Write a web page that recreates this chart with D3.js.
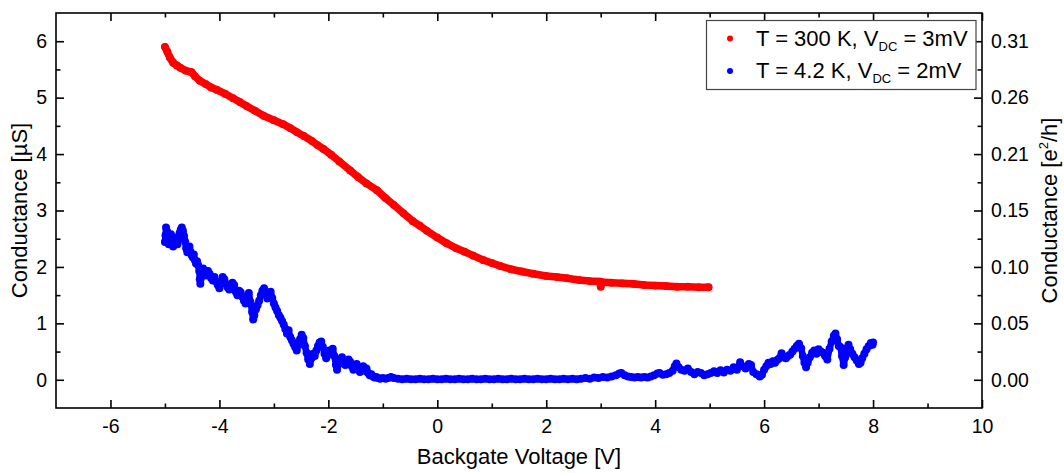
<!DOCTYPE html>
<html><head><meta charset="utf-8">
<script src="https://cdn.jsdelivr.net/npm/d3@7"></script>
<style>
body{margin:0;background:#fff}
svg{display:block}
text{font-family:"Liberation Sans",Arial,sans-serif;fill:#000}
</style>
</head><body>
<svg id="c" width="1064" height="473"></svg>
<script>
// ---- tick labels / axis data ----
const xTickValues = [-6, -4, -2, 0, 2, 4, 6, 8, 10];
const xMinorValues = [-5, -3, -1, 1, 3, 5, 7, 9];
const yTickValues = [0, 1, 2, 3, 4, 5, 6];
const yMinorValues = [0.5, 1.5, 2.5, 3.5, 4.5, 5.5];
const rightTickLabels = ["0.00", "0.05", "0.10", "0.15", "0.21", "0.26", "0.31"];
const seriesNames = ["T = 300 K, V", "T = 4.2 K, V"];
const seriesSubs = ["DC", "DC"];
const seriesTails = [" = 3mV", " = 2mV"];

// ---- T = 300 K series ----
const redV = [-5.00,-4.96,-4.91,-4.85,-4.78,-4.72,-4.62,-4.51,-4.45,-4.36,-4.25,-4.15,-4.05,-3.90,-3.75,-3.62,-3.50,-3.35,-3.19,-3.00,-2.83,-2.70,-2.58,-2.45,-2.30,-2.20,-2.09,-1.95,-1.80,-1.60,-1.45,-1.30,-1.11,-0.95,-0.80,-0.62,-0.45,-0.32,-0.19,0.00,0.17,0.35,0.50,0.66,0.85,1.00,1.15,1.35,1.55,1.76,2.00,2.20,2.38,2.60,2.80,2.99,3.00,3.02,3.20,3.40,3.60,3.80,4.00,4.21,4.40,4.60,4.80,4.98];
const redG = [5.90,5.82,5.71,5.62,5.57,5.53,5.48,5.45,5.38,5.30,5.24,5.18,5.14,5.07,4.99,4.92,4.85,4.77,4.68,4.60,4.53,4.46,4.39,4.32,4.23,4.16,4.09,3.99,3.87,3.71,3.59,3.48,3.36,3.22,3.10,2.95,2.81,2.73,2.64,2.52,2.42,2.33,2.27,2.20,2.12,2.07,2.02,1.96,1.92,1.88,1.84,1.82,1.80,1.77,1.75,1.74,1.65,1.73,1.72,1.71,1.70,1.68,1.67,1.66,1.65,1.65,1.64,1.64];

// ---- T = 4.2 K series ----
const blueV = [-5.00,-4.99,-4.98,-4.96,-4.95,-4.93,-4.91,-4.89,-4.87,-4.85,-4.83,-4.81,-4.79,-4.77,-4.75,-4.73,-4.71,-4.69,-4.67,-4.65,-4.63,-4.61,-4.59,-4.57,-4.55,-4.53,-4.51,-4.49,-4.47,-4.45,-4.43,-4.41,-4.39,-4.37,-4.36,-4.35,-4.34,-4.32,-4.30,-4.27,-4.24,-4.21,-4.18,-4.15,-4.12,-4.09,-4.06,-4.03,-4.00,-3.97,-3.94,-3.91,-3.88,-3.85,-3.82,-3.79,-3.76,-3.73,-3.70,-3.67,-3.64,-3.61,-3.58,-3.55,-3.52,-3.49,-3.46,-3.43,-3.40,-3.38,-3.36,-3.33,-3.30,-3.27,-3.24,-3.21,-3.18,-3.15,-3.12,-3.09,-3.06,-3.03,-3.00,-2.97,-2.94,-2.91,-2.88,-2.85,-2.82,-2.79,-2.76,-2.73,-2.70,-2.67,-2.64,-2.61,-2.58,-2.55,-2.52,-2.49,-2.46,-2.43,-2.40,-2.37,-2.34,-2.31,-2.28,-2.25,-2.22,-2.19,-2.16,-2.13,-2.10,-2.07,-2.04,-2.01,-1.98,-1.95,-1.92,-1.89,-1.86,-1.84,-1.81,-1.78,-1.75,-1.72,-1.69,-1.66,-1.63,-1.60,-1.57,-1.54,-1.51,-1.48,-1.45,-1.42,-1.39,-1.36,-1.33,-1.30,-1.27,-1.24,-1.21,-1.18,-1.15,-1.12,-1.09,-1.05,-1.00,-0.95,-0.90,-0.85,-0.80,
-0.72,-0.64,-0.56,-0.48,-0.40,-0.32,-0.24,-0.16,-0.08,0.00,0.08,0.16,0.24,0.32,0.40,0.48,0.56,0.64,0.72,0.80,0.88,0.96,1.04,1.12,1.20,1.28,1.36,1.44,1.52,1.60,1.68,1.76,1.84,1.92,2.00,2.08,2.16,2.24,2.32,2.40,2.48,2.56,2.64,2.72,2.80,2.88,2.96,3.04,3.12,3.20,3.28,3.34,3.38,3.44,3.50,3.56,3.62,3.68,3.74,3.80,3.86,3.92,3.98,4.04,4.08,4.14,4.20,4.26,4.32,4.36,4.39,4.43,4.48,4.54,4.60,4.66,4.72,4.78,4.84,4.90,4.96,5.02,5.08,5.14,5.20,5.26,5.32,5.38,5.44,5.50,5.56,5.60,5.66,5.72,5.76,5.80,5.86,5.92,5.96,6.00,6.04,6.08,6.12,6.16,6.20,6.24,6.28,6.32,6.36,6.40,6.44,6.48,6.52,6.56,6.60,6.64,6.68,6.71,6.74,6.77,6.80,6.84,6.88,6.92,6.96,7.00,7.04,7.08,7.12,7.16,7.20,7.24,7.28,7.31,7.34,7.37,7.40,7.43,7.46,7.49,7.52,7.55,7.58,7.62,7.66,7.70,7.74,7.77,7.80,7.84,7.88,7.92,7.96,7.99,8.00];
const blueG = [2.44,2.56,2.70,2.63,2.49,2.40,2.52,2.58,2.46,2.36,2.44,2.52,2.47,2.40,2.50,2.60,2.66,2.70,2.64,2.55,2.45,2.33,2.26,2.31,2.36,2.27,2.21,2.17,2.22,2.12,2.06,2.10,2.03,1.93,1.78,1.70,1.80,1.92,1.97,1.90,1.85,1.93,1.88,1.80,1.76,1.82,1.74,1.68,1.62,1.70,1.82,1.78,1.70,1.64,1.60,1.66,1.72,1.68,1.56,1.50,1.58,1.55,1.47,1.40,1.35,1.45,1.54,1.38,1.20,1.07,1.14,1.25,1.32,1.40,1.50,1.58,1.62,1.55,1.44,1.52,1.56,1.45,1.35,1.28,1.22,1.15,1.10,1.04,0.98,0.90,0.82,0.88,0.76,0.70,0.64,0.58,0.52,0.62,0.72,0.80,0.74,0.60,0.48,0.36,0.28,0.38,0.46,0.42,0.52,0.60,0.66,0.68,0.58,0.46,0.38,0.44,0.52,0.48,0.55,0.42,0.26,0.18,0.28,0.36,0.40,0.34,0.26,0.30,0.36,0.32,0.24,0.18,0.24,0.28,0.20,0.14,0.19,0.24,0.16,0.20,0.12,0.08,0.10,0.06,0.04,0.05,0.03,0.02,0.03,0.02,0.03,0.05,0.03,
0.02,0.01,0.02,0.01,0.01,0.02,0.01,0.01,0.02,0.01,0.01,0.02,0.01,0.01,0.02,0.01,0.01,0.02,0.01,0.01,0.02,0.01,0.01,0.02,0.01,0.01,0.02,0.01,0.01,0.02,0.01,0.01,0.02,0.01,0.01,0.02,0.01,0.01,0.02,0.01,0.02,0.01,0.02,0.03,0.02,0.04,0.03,0.05,0.04,0.06,0.08,0.11,0.12,0.08,0.06,0.05,0.04,0.05,0.04,0.05,0.04,0.06,0.08,0.11,0.12,0.09,0.10,0.12,0.16,0.24,0.29,0.22,0.18,0.16,0.20,0.14,0.10,0.14,0.12,0.08,0.10,0.12,0.15,0.12,0.17,0.13,0.18,0.16,0.22,0.18,0.31,0.24,0.20,0.28,0.26,0.14,0.10,0.06,0.09,0.18,0.24,0.30,0.28,0.33,0.30,0.35,0.38,0.47,0.40,0.38,0.42,0.45,0.50,0.55,0.60,0.64,0.56,0.42,0.30,0.22,0.30,0.40,0.48,0.52,0.46,0.54,0.50,0.48,0.42,0.36,0.55,0.68,0.78,0.82,0.72,0.60,0.58,0.42,0.26,0.40,0.56,0.62,0.54,0.46,0.40,0.34,0.28,0.30,0.38,0.46,0.54,0.60,0.65,0.62,0.66];

const svg = d3.select("#c");
const padL = 56, padR = 982, padT = 13, padB = 408;
const x = d3.scaleLinear().domain([-7, 10]).range([padL, padR]);
const y = d3.scaleLinear().domain([-0.5, 6.5]).range([padB, padT]);
const tickFont = "19.5px";
const axisW = 1.6;
const plain = d => String(d);

function styleAxis(g) {
  g.select(".domain").remove();
  g.selectAll("line").attr("stroke", "#000").attr("stroke-width", axisW);
  g.selectAll("text").style("font-size", tickFont).attr("fill", "#000");
}

// bottom axis
svg.append("g").attr("transform", `translate(0,${padB})`)
  .call(d3.axisBottom(x).tickValues(xTickValues).tickSize(-8).tickPadding(10).tickFormat(plain))
  .call(styleAxis)
  .call(g => g.selectAll("text").attr("y", 24.5).attr("dy", 0));
svg.append("g").attr("transform", `translate(0,${padB})`)
  .call(d3.axisBottom(x).tickValues(xMinorValues).tickSize(-4.5).tickFormat(""))
  .call(styleAxis);
// top axis
svg.append("g").attr("transform", `translate(0,${padT})`)
  .call(d3.axisTop(x).tickValues(xTickValues).tickSize(-8).tickFormat(""))
  .call(styleAxis);
svg.append("g").attr("transform", `translate(0,${padT})`)
  .call(d3.axisTop(x).tickValues(xMinorValues).tickSize(-4.5).tickFormat(""))
  .call(styleAxis);
// left axis
svg.append("g").attr("transform", `translate(${padL},0)`)
  .call(d3.axisLeft(y).tickValues(yTickValues).tickSize(-8).tickPadding(9).tickFormat(plain))
  .call(styleAxis);
svg.append("g").attr("transform", `translate(${padL},0)`)
  .call(d3.axisLeft(y).tickValues(yMinorValues).tickSize(-4.5).tickFormat(""))
  .call(styleAxis);
// right axis
svg.append("g").attr("transform", `translate(${padR},0)`)
  .call(d3.axisRight(y).tickValues(yTickValues).tickSize(-8).tickPadding(9).tickFormat((d, i) => rightTickLabels[i]))
  .call(styleAxis);
svg.append("g").attr("transform", `translate(${padR},0)`)
  .call(d3.axisRight(y).tickValues(yMinorValues).tickSize(-4.5).tickFormat(""))
  .call(styleAxis);

// frame
svg.append("rect").attr("x", padL).attr("y", padT).attr("width", padR - padL).attr("height", padB - padT)
  .attr("fill", "none").attr("stroke", "#000").attr("stroke-width", axisW);

// data
const red = "#ff0000", blue = "#0000ff";
const redData = redV.map((v, i) => [v, redG[i]]);
const blueData = blueV.map((v, i) => [v, blueG[i]]);
const line = d3.line().x(d => x(d[0])).y(d => y(d[1]));
svg.append("path").datum(redData).attr("d", line).attr("fill", "none")
  .attr("stroke", red).attr("stroke-width", 7.6).attr("stroke-linecap", "round").attr("stroke-linejoin", "round");
svg.append("g").selectAll("circle").data(redData).join("circle")
  .attr("cx", d => x(d[0])).attr("cy", d => y(d[1])).attr("r", 3.9).attr("fill", red);
svg.append("path").datum(blueData).attr("d", line).attr("fill", "none")
  .attr("stroke", blue).attr("stroke-width", 6.5).attr("stroke-linecap", "round").attr("stroke-linejoin", "round");
svg.append("g").selectAll("circle").data(blueData).join("circle")
  .attr("cx", d => x(d[0])).attr("cy", d => y(d[1])).attr("r", 4).attr("fill", blue);

// axis titles
svg.append("text").attr("x", (padL + padR) / 2).attr("y", 464).attr("text-anchor", "middle")
  .style("font-size", "22px").text("Backgate Voltage [V]");
svg.append("text").attr("transform", `translate(27,${(padT + padB) / 2}) rotate(-90)`).attr("text-anchor", "middle")
  .style("font-size", "22px").text("Conductance [µS]");
const rt = svg.append("text").attr("transform", `translate(1057,${(padT + padB) / 2}) rotate(-90)`).attr("text-anchor", "middle")
  .style("font-size", "22px");
rt.append("tspan").text("Conductance [e");
rt.append("tspan").attr("dy", -9).style("font-size", "13px").text("2");
rt.append("tspan").attr("dy", 9).text("/h]");

// legend
const lg = svg.append("g");
lg.append("rect").attr("x", 706.5).attr("y", 20.5).attr("width", 269.5).attr("height", 69)
  .attr("fill", "#fff").attr("stroke", "#444").attr("stroke-width", 1.2);
[red, blue].forEach((c, i) => {
  const yy = 38.5 + i * 32.5;
  lg.append("circle").attr("cx", 730).attr("cy", yy).attr("r", 3).attr("fill", c);
  const t = lg.append("text").attr("x", 756).attr("y", yy + 7).style("font-size", "22px");
  t.append("tspan").text(seriesNames[i]);
  t.append("tspan").attr("dy", 5).style("font-size", "13px").text(seriesSubs[i]);
  t.append("tspan").attr("dy", -5).text(seriesTails[i]);
});
</script>
</body></html>
